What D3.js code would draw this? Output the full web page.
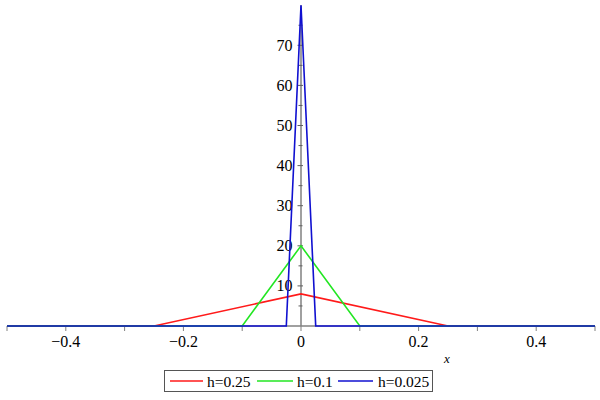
<!DOCTYPE html>
<html>
<head>
<meta charset="utf-8">
<script src="https://cdn.jsdelivr.net/npm/d3@7"></script>
<style>
html,body{margin:0;padding:0;background:#fff;}
svg{display:block;}
</style>
</head>
<body>
<svg id="chart" width="600" height="400"></svg>
<script>
// ---- data ----
const seriesNames = ["h=0.25", "h=0.1", "h=0.025"];
const seriesColors = ["#ff1a1a", "#22e622", "#1010d0"];
const redX = [-0.5, -0.25, 0, 0.25, 0.5];
const redY = [0, 0, 8, 0, 0];
const greenX = [-0.5, -0.1, 0, 0.1, 0.5];
const greenY = [0, 0, 20, 0, 0];
const blueX = [-0.5, -0.025, 0, 0.025, 0.5];
const blueY = [0, 0, 80, 0, 0];
const xTickValues = [-0.5, -0.4, -0.3, -0.2, -0.1, 0, 0.1, 0.2, 0.3, 0.4, 0.5];
const xTickLabels = [-0.4, -0.2, 0, 0.2, 0.4];
const yMajorTicks = [10, 20, 30, 40, 50, 60, 70];
const yMinorTicks = [5, 15, 25, 35, 45, 55, 65, 75];

const series = [
  {name: seriesNames[0], color: seriesColors[0], xs: redX, ys: redY},
  {name: seriesNames[1], color: seriesColors[1], xs: greenX, ys: greenY},
  {name: seriesNames[2], color: seriesColors[2], xs: blueX, ys: blueY}
];

const FONT = "'Liberation Serif','Times New Roman',Times,serif";
const svg = d3.select("#chart");
const x = d3.scaleLinear().domain([-0.5, 0.5]).range([7, 595]);
const y = d3.scaleLinear().domain([0, 80]).range([326, 5.2]);

const fmt = v => (v === 0 ? "0" : (v < 0 ? "\u2212" : "") + Math.abs(v).toString());

function txt(g) {
  return g.attr("font-family", FONT).attr("font-size", 16).attr("fill", "#000");
}

// x axis
const xAxis = svg.append("g");
xAxis.append("line")
  .attr("x1", x(-0.5)).attr("x2", x(0.5))
  .attr("y1", y(0)).attr("y2", y(0))
  .attr("stroke", "#808080").attr("stroke-width", 1.5);
xAxis.selectAll("line.tick").data(xTickValues).enter().append("line")
  .attr("class", "tick")
  .attr("x1", d => x(d)).attr("x2", d => x(d))
  .attr("y1", y(0)).attr("y2", y(0) + 5)
  .attr("stroke", "#808080").attr("stroke-width", 1);
xAxis.selectAll("text").data(xTickLabels).enter().append("text")
  .call(txt)
  .attr("x", d => x(d)).attr("y", 347)
  .attr("text-anchor", "middle")
  .text(fmt);
svg.append("text").call(txt)
  .attr("x", 447).attr("y", 363)
  .attr("text-anchor", "middle")
  .attr("font-style", "italic").attr("font-size", 13)
  .text("x");

// y axis
const yAxis = svg.append("g");
yAxis.append("line")
  .attr("x1", x(0)).attr("x2", x(0))
  .attr("y1", y(0)).attr("y2", y(80))
  .attr("stroke", "#808080").attr("stroke-width", 1.5);
yAxis.selectAll("line.major").data(yMajorTicks).enter().append("line")
  .attr("class", "major")
  .attr("x1", x(0) - 3.5).attr("x2", x(0) + 2)
  .attr("y1", d => y(d)).attr("y2", d => y(d))
  .attr("stroke", "#606060").attr("stroke-width", 1);
yAxis.selectAll("line.minor").data(yMinorTicks).enter().append("line")
  .attr("class", "minor")
  .attr("x1", x(0) - 2.5).attr("x2", x(0) + 1.5)
  .attr("y1", d => y(d)).attr("y2", d => y(d))
  .attr("stroke", "#606060").attr("stroke-width", 1);
yAxis.selectAll("text").data(yMajorTicks).enter().append("text")
  .call(txt)
  .attr("x", x(0) - 8.5).attr("y", d => y(d) + 5.5)
  .attr("text-anchor", "end")
  .text(d => d);

// series
const line = d3.line().x(d => x(d[0])).y(d => y(d[1]));
series.forEach(s => {
  const pts = s.xs.map((v, i) => [v, s.ys[i]]);
  svg.append("path").datum(pts)
    .attr("d", line)
    .attr("fill", "none")
    .attr("stroke", s.color)
    .attr("stroke-width", 1.6)
    .attr("stroke-linejoin", "miter");
});

// legend
const lg = svg.append("g");
lg.append("rect").attr("x", 164.5).attr("y", 370.5).attr("width", 268).attr("height", 21)
  .attr("fill", "#fff").attr("stroke", "#555").attr("stroke-width", 1);
const legendItems = [
  {x1: 170, x2: 203, tx: 207},
  {x1: 257, x2: 293, tx: 297},
  {x1: 338, x2: 373, tx: 378}
];
series.forEach((s, i) => {
  const it = legendItems[i];
  lg.append("line").attr("x1", it.x1).attr("x2", it.x2)
    .attr("y1", 381).attr("y2", 381)
    .attr("stroke", s.color).attr("stroke-width", 1.6);
  lg.append("text").call(txt).attr("font-size", 15.5).attr("x", it.tx).attr("y", 386.5).text(s.name);
});
</script>
</body>
</html>
